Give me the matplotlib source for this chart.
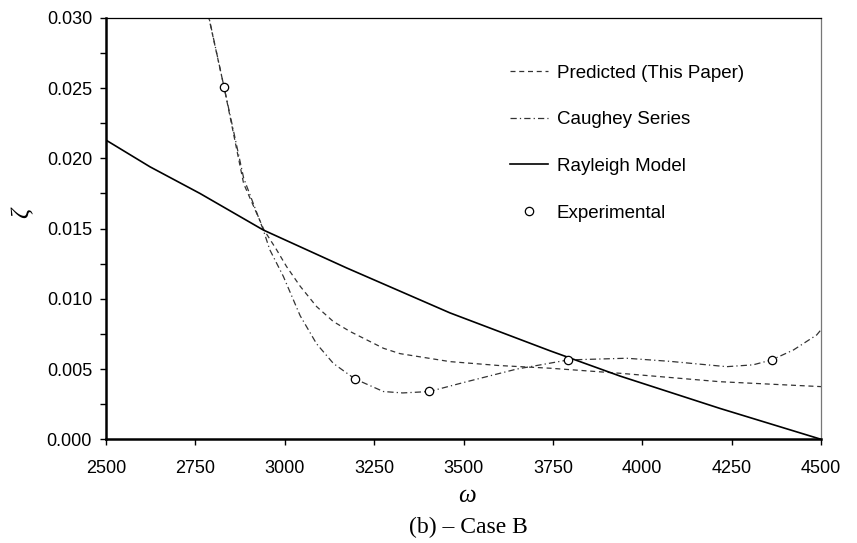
import matplotlib
matplotlib.use("Agg")
import matplotlib.pyplot as plt
from matplotlib.ticker import MultipleLocator, FormatStrFormatter

plt.rcParams["font.family"] = ["Liberation Sans", "DejaVu Sans"]

# values
pred_w = [2786, 2830, 2885, 2942, 2977, 3005, 3043, 3089, 3136, 3183, 3276,
          3322, 3462, 3600, 3742, 3938, 4217, 4500]
pred_z = [0.0302, 0.0251, 0.0182, 0.0149, 0.0135, 0.0123, 0.0109, 0.00945,
          0.00838, 0.00767, 0.00648, 0.0061, 0.00553, 0.00525, 0.00506,
          0.0047, 0.0041, 0.00375]

caug_w = [2784, 2830, 2885, 2940, 2958, 2996, 3043, 3089, 3136, 3196, 3276,
          3330, 3404, 3509, 3649, 3793, 3956, 4077, 4236, 4310, 4362, 4423,
          4488, 4500]
caug_z = [0.0305, 0.0251, 0.0186, 0.0149, 0.0135, 0.0116, 0.0088, 0.0068,
          0.0054, 0.0043, 0.0034, 0.0033, 0.0034, 0.0041, 0.0050, 0.00565,
          0.00577, 0.00555, 0.00517, 0.0053, 0.00565, 0.00636, 0.00743, 0.0078]

rayl_w = [2500, 2623, 2763, 2940, 3173, 3462, 3742, 3938, 4217, 4500]
rayl_z = [0.0213, 0.0194, 0.0175, 0.0149, 0.0122, 0.0090, 0.0063, 0.0045,
          0.0022, 0.0]

exp_w = [2830, 3196, 3404, 3793, 4363]
exp_z = [0.0251, 0.00427, 0.00342, 0.00565, 0.00565]

fig = plt.figure(figsize=(8.57, 5.43), dpi=100)
ax = fig.add_axes([0.1237, 0.191, 0.8343, 0.776])

ax.plot(pred_w, pred_z, color="#333333", lw=0.9, dashes=(4, 3),
        label="Predicted (This Paper)")
ax.plot(caug_w, caug_z, color="#333333", lw=0.9, dashes=(5, 2.5, 1, 2.5),
        label="Caughey Series")
ax.plot(rayl_w, rayl_z, color="black", lw=1.2, label="Rayleigh Model")
ax.plot(exp_w, exp_z, ls="none", marker="o", ms=6, mfc="white", mec="black",
        mew=0.9, label="Experimental", zorder=5)

ax.set_xlim(2500, 4500)
ax.set_ylim(0, 0.030)
ax.xaxis.set_major_locator(MultipleLocator(250))
ax.yaxis.set_major_locator(MultipleLocator(0.005))
ax.yaxis.set_minor_locator(MultipleLocator(0.0025))
ax.yaxis.set_major_formatter(FormatStrFormatter("%.3f"))
ax.tick_params(direction="out", labelsize=13, width=1.0, length=4, pad=6)
ax.tick_params(axis="x", pad=11)
ax.tick_params(axis="y", which="minor", direction="out", length=4, width=1.0)

for side in ["left", "bottom"]:
    ax.spines[side].set_linewidth(1.8)
ax.spines["top"].set_linewidth(0.9)
ax.spines["right"].set_linewidth(0.9)
ax.spines["right"].set_color("#777777")

ax.set_xlabel("ω", family="Liberation Serif", style="italic", fontsize=18)
ax.set_ylabel("ζ", family="Liberation Serif", style="italic", fontsize=18)
ax.xaxis.set_label_coords(0.505, -0.108)
ax.yaxis.set_label_coords(-0.117, 0.537)
ax.yaxis.label.set_verticalalignment("center")

ax.legend(loc="upper left", bbox_to_anchor=(0.552, 0.911), frameon=False,
          fontsize=13.5, handlelength=2.0, handletextpad=0.5,
          labelspacing=1.57, numpoints=1, borderpad=0)

fig.text(0.546, 0.0295, "(b) – Case B", family="Liberation Serif",
         fontsize=17, ha="center", va="center")

fig.savefig("out.png", dpi=100)
